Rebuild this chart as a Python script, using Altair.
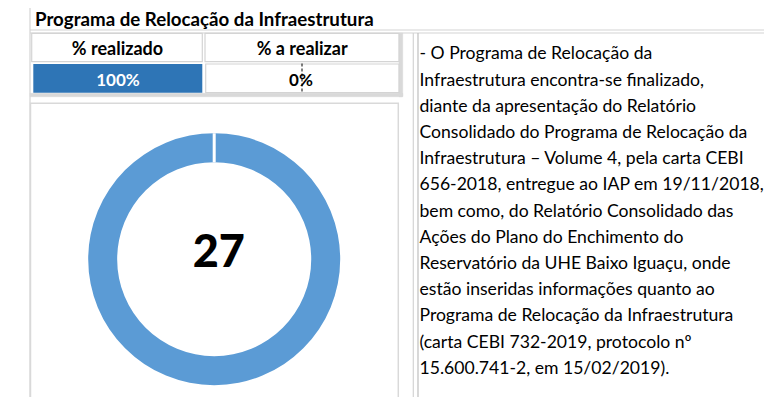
import altair as alt
import pandas as pd

# ---------------- data ----------------
title_text = "Programa de Relocação da Infraestrutura"
headers = ["% realizado", "% a realizar"]
pct_values = [100, 0]
pct_labels = ["100%", "0%"]
donut_center_label = ["27"]
notes = [
    "- O Programa de Relocação da",
    "Infraestrutura encontra-se finalizado,",
    "diante da apresentação do Relatório",
    "Consolidado do Programa de Relocação da",
    "Infraestrutura – Volume 4, pela carta CEBI",
    "656-2018, entregue ao IAP em 19/11/2018,",
    "bem como, do Relatório Consolidado das",
    "Ações do Plano do Enchimento do",
    "Reservatório da UHE Baixo Iguaçu, onde",
    "estão inseridas informações quanto ao",
    "Programa de Relocação da Infraestrutura",
    "(carta CEBI 732-2019, protocolo nº",
    "15.600.741-2, em 15/02/2019).",
]

FONT = "Lato"
OFF = 8  # page margin


def px(v):
    return v - OFF


dummy = pd.DataFrame({"k": [0]})
df_pct = pd.DataFrame({"cat": headers, "pct": pct_values, "txt": pct_labels,
                       "idx": list(range(len(headers)))})
df_notes = pd.DataFrame({"line": notes, "i": list(range(len(notes)))})
df_center = pd.DataFrame({"txt": donut_center_label})
df_title = pd.DataFrame({"txt": [title_text]})
df_head = pd.DataFrame({"txt": headers})

LIGHT = "#D4D4D4"
MID = "#BFBFBF"


def box(x0, y0, x1, y1, fill=None, stroke=LIGHT, sw=1.0):
    kw = dict(stroke=stroke, strokeWidth=sw)
    if fill is None:
        kw.update(fill="white", fillOpacity=0)
    else:
        kw.update(fill=fill)
    return alt.Chart(dummy).mark_rect(**kw).encode(
        x=alt.value(px(x0)), x2=alt.value(px(x1)),
        y=alt.value(px(y0)), y2=alt.value(px(y1)))


def hline(x0, x1, y, color=LIGHT, sw=1.0):
    return alt.Chart(dummy).mark_rule(color=color, strokeWidth=sw).encode(
        x=alt.value(px(x0)), x2=alt.value(px(x1)), y=alt.value(px(y)))


def vline(x, y0, y1, color=LIGHT, sw=1.0, dash=None):
    kw = dict(color=color, strokeWidth=sw)
    if dash:
        kw["strokeDash"] = dash
    return alt.Chart(dummy).mark_rule(**kw).encode(
        x=alt.value(px(x)), y=alt.value(px(y0)), y2=alt.value(px(y1)))


layers = []

# ----- frame lines -----
layers += [
    vline(30, 0, 420, LIGHT, 1.2),
    hline(30, 780, 30, LIGHT, 1.2),
    hline(30, 780, 33, LIGHT, 1.2),
    # table gray band
    box(30, 93.3, 402.7, 96.7, fill="#D9D9D9", stroke="#D9D9D9", sw=0.5),
    box(399, 33, 402.7, 96.7, fill="#D9D9D9", stroke="#D9D9D9", sw=0.5),
    # header cells
    box(31.7, 33.3, 202.3, 61.7, stroke=LIGHT, sw=1.2),
    box(205, 33.3, 399, 61.7, stroke=LIGHT, sw=1.2),
    box(205.7, 64, 399, 92.7, stroke=LIGHT, sw=1.2),
    # chart box
    box(30.5, 103.3, 398.3, 420, stroke="#D9D9D9", sw=1.5),
    # text cell
    vline(413.3, 33, 402, LIGHT, 1.2),
    vline(418, 33, 402, MID, 1.2),
    hline(413, 780, 403, "#D9D9D9", 2.5),
]

# ----- title -----
layers.append(
    alt.Chart(df_title).mark_text(font=FONT, fontSize=18.7, fontWeight="bold",
                                  align="left", baseline="alphabetic",
                                  color="black").encode(
        x=alt.value(px(35)), y=alt.value(px(25.7)), text="txt:N"))

# ----- headers -----
layers.append(
    alt.Chart(df_head).transform_filter(alt.datum.txt == headers[0])
    .mark_text(font=FONT, fontSize=18, fontWeight="bold", align="center",
               baseline="alphabetic", color="black")
    .encode(x=alt.value(px(117.5)), y=alt.value(px(55)), text="txt:N"))
layers.append(
    alt.Chart(df_head).transform_filter(alt.datum.txt == headers[1])
    .mark_text(font=FONT, fontSize=18, fontWeight="bold", align="center",
               baseline="alphabetic", color="black")
    .encode(x=alt.value(px(302.2)), y=alt.value(px(55)), text="txt:N"))

# ----- progress bar (data bar of % realizado) -----
layers.append(
    alt.Chart(df_pct).transform_filter(alt.datum.cat == headers[0])
    .mark_rect(color="#2E75B6")
    .encode(x=alt.X("pct:Q", scale=alt.Scale(domain=[0, 100],
                                             range=[px(33.3), px(202.3)]),
                    axis=None),
            x2=alt.value(px(33.3)),
            y=alt.value(px(64)), y2=alt.value(px(92.7))))
# data-bar axis in the % a realizar cell
layers.append(vline(302, 63.5, 93, "black", 1, [3, 2]))

layers.append(
    alt.Chart(df_pct).transform_filter(alt.datum.cat == headers[0])
    .mark_text(font=FONT, fontSize=17, fontWeight="bold", align="center",
               baseline="alphabetic", color="white")
    .encode(x=alt.value(px(118)), y=alt.value(px(86)), text="txt:N"))
layers.append(
    alt.Chart(df_pct).transform_filter(alt.datum.cat == headers[1])
    .mark_text(font=FONT, fontSize=17, fontWeight="bold", align="center",
               baseline="alphabetic", color="black")
    .encode(x=alt.value(px(301)), y=alt.value(px(86)), text="txt:N"))

# ----- donut -----
layers.append(
    alt.Chart(df_pct).mark_arc(innerRadius=97, outerRadius=126, stroke="white")
    .encode(theta=alt.Theta("pct:Q", stack=True,
                            scale=alt.Scale(range=[0, 6.283185307179586])),
            order=alt.Order("idx:Q"),
            color=alt.Color("cat:N", scale=alt.Scale(domain=headers,
                                                     range=["#5B9BD5", "#5B9BD5"]),
                            legend=None),
            strokeWidth=alt.StrokeWidth("cat:N", scale=alt.Scale(domain=headers,
                                                                 range=[0, 3]),
                                        legend=None),
            x=alt.value(px(214.2)), y=alt.value(px(259.2))))
layers.append(
    alt.Chart(df_center).mark_text(font=FONT, fontSize=45, fontWeight=900,
                                   align="center", baseline="middle",
                                   color="black")
    .encode(x=alt.value(px(218.8)), y=alt.value(px(252.5)), text="txt:N"))

# ----- note text -----
layers.append(
    alt.Chart(df_notes).mark_text(font=FONT, fontSize=17.6, align="left",
                                  baseline="alphabetic", color="black")
    .encode(x=alt.value(px(419.5)),
            y=alt.Y("i:Q", scale=alt.Scale(domain=[0, len(notes) - 1],
                                           range=[px(59.3), px(373.7)]),
                    axis=None),
            text="line:N"))

chart = alt.layer(*layers).resolve_scale(
    x="independent", y="independent", color="independent",
    strokeWidth="independent", theta="independent"
).properties(
    width=756, height=389, padding=0,
    autosize=alt.AutoSizeParams(type="none"),
    background="white",
).configure_view(stroke=None)

chart.save("out.html", embed_options={"renderer": "svg", "actions": False})
